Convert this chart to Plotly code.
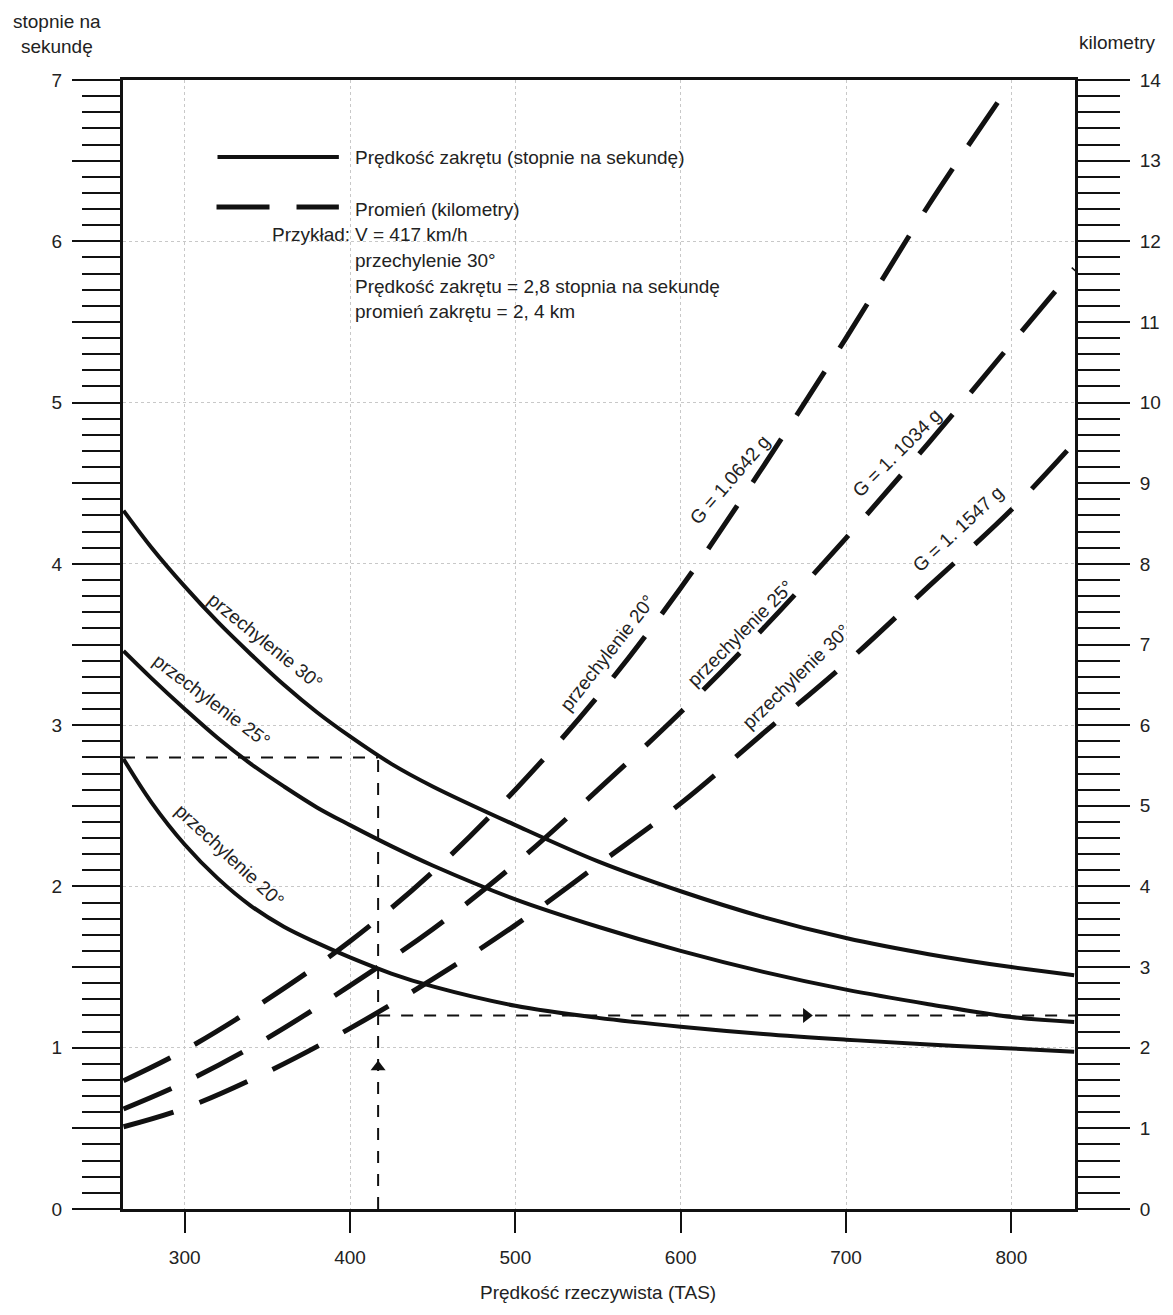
import plotly.graph_objects as go

# ---------------- data ----------------
rate_tas = [263, 280, 300, 320, 340, 360, 380, 400, 425, 450, 500, 550, 600, 650, 700, 750, 800, 838]
rate_30 = [4.33, 4.10, 3.86, 3.64, 3.44, 3.25, 3.08, 2.93, 2.76, 2.62, 2.38, 2.155, 1.97, 1.81, 1.68, 1.58, 1.50, 1.45]
rate_25 = [3.46, 3.29, 3.10, 2.92, 2.76, 2.62, 2.49, 2.38, 2.25, 2.13, 1.92, 1.75, 1.60, 1.47, 1.36, 1.27, 1.19, 1.16]
rate_20 = [2.79, 2.52, 2.26, 2.05, 1.88, 1.75, 1.65, 1.56, 1.46, 1.38, 1.26, 1.185, 1.13, 1.085, 1.05, 1.02, 0.995, 0.975]

r20_tas = [263, 300, 350, 400, 450, 500, 550, 600, 650, 700, 750, 797]
radius_20 = [1.59, 1.97, 2.60, 3.32, 4.18, 5.20, 6.36, 7.70, 9.21, 10.80, 12.45, 13.88]
r_tas = [263, 300, 350, 400, 450, 500, 550, 600, 650, 700, 750, 800, 838]
radius_25 = [1.24, 1.57, 2.12, 2.77, 3.47, 4.28, 5.20, 6.16, 7.20, 8.32, 9.50, 10.73, 11.66]
radius_30 = [1.02, 1.25, 1.70, 2.24, 2.85, 3.52, 4.27, 5.03, 5.90, 6.77, 7.72, 8.67, 9.50]

x_ticks = [300, 400, 500, 600, 700, 800]
rate_ticks = [i * 0.5 for i in range(15)]
rate_ticktext = [str(int(v)) if v == int(v) else "" for v in rate_ticks]
km_ticks = list(range(0, 15))

example_tas = 417
example_rate = 2.8
example_radius = 2.4
arrow_up_rate = 0.88
arrow_right_tas = 676

X_RANGE = [262.7, 838.5]
Y_RANGE = [0, 7]
Y2_RANGE = [0, 14]

# ---------------- style ----------------
FONT = "Liberation Sans, Arial, sans-serif"
INK = "#111111"
TXT = "#222222"
W, H = 1173, 1315
# plot area in page pixels
PX0, PX1, PY0, PY1 = 123, 1080, 80, 1209
ML, MR, MT, MB = PX0, W - PX1, PY0, H - PY1


def xp(px):
    return (px - PX0) / (PX1 - PX0)


def yp(py):
    return (PY1 - py) / (PY1 - PY0)


fig = go.Figure()

for vals in (rate_30, rate_25, rate_20):
    fig.add_trace(go.Scatter(x=rate_tas, y=vals, mode="lines", yaxis="y",
                             line=dict(color=INK, width=4, shape="spline"),
                             showlegend=False, hoverinfo="skip"))

for xs, vals in ((r20_tas, radius_20), (r_tas, radius_25), (r_tas, radius_30)):
    fig.add_trace(go.Scatter(x=xs, y=vals, mode="lines", yaxis="y2",
                             line=dict(color=INK, width=5, dash="52px,28px", shape="spline"),
                             showlegend=False, hoverinfo="skip"))

# example construction lines
thin = dict(color=INK, width=2, dash="12px,11px")
fig.add_trace(go.Scatter(x=[X_RANGE[0], example_tas], y=[example_rate, example_rate],
                         mode="lines", yaxis="y", line=thin, showlegend=False, hoverinfo="skip"))
fig.add_trace(go.Scatter(x=[example_tas, example_tas], y=[0, example_rate],
                         mode="lines", yaxis="y", line=thin, showlegend=False, hoverinfo="skip"))
fig.add_trace(go.Scatter(x=[example_tas, X_RANGE[1]], y=[example_radius, example_radius],
                         mode="lines", yaxis="y2", line=thin, showlegend=False, hoverinfo="skip"))
fig.add_trace(go.Scatter(x=[example_tas], y=[arrow_up_rate], mode="markers", yaxis="y",
                         marker=dict(symbol="triangle-up", size=13, color=INK),
                         showlegend=False, hoverinfo="skip"))
fig.add_trace(go.Scatter(x=[arrow_right_tas], y=[example_radius], mode="markers", yaxis="y2",
                         marker=dict(symbol="triangle-right", size=13, color=INK),
                         showlegend=False, hoverinfo="skip"))

tickfont = dict(family=FONT, size=19, color=TXT)

fig.update_layout(
    width=W, height=H,
    margin=dict(l=ML, r=MR, t=MT, b=MB, pad=0),
    paper_bgcolor="white", plot_bgcolor="white",
    font=dict(family=FONT, size=19, color=TXT),
    showlegend=False,
    xaxis=dict(range=X_RANGE, tickvals=x_ticks, ticks="outside", ticklen=21, tickwidth=2,
               tickcolor=INK, showline=True, linewidth=3, linecolor=INK, mirror=True,
               showgrid=True, gridcolor="#c8c8c8", griddash="dot", gridwidth=1,
               zeroline=False, tickfont=tickfont, ticklabelstandoff=8),
    yaxis=dict(range=Y_RANGE, tickvals=rate_ticks, ticktext=rate_ticktext, ticks="outside",
               ticklen=48, tickwidth=2, tickcolor=INK, showline=True, linewidth=3,
               linecolor=INK, showgrid=False, zeroline=False, tickfont=tickfont,
               ticklabelstandoff=6,
               minor=dict(dtick=0.1, tick0=0, ticks="outside", ticklen=38, tickwidth=2,
                          tickcolor=INK, showgrid=False)),
    yaxis3=dict(range=Y_RANGE, overlaying="y", dtick=1, showgrid=True, gridcolor="#c8c8c8",
                griddash="dot", gridwidth=1, showticklabels=False, ticks="", showline=False,
                zeroline=False),
    yaxis2=dict(range=Y2_RANGE, overlaying="y", side="right", tickvals=km_ticks,
                ticks="outside", ticklen=52, tickwidth=2, tickcolor=INK, showline=True,
                linewidth=3, linecolor=INK, showgrid=False, zeroline=False,
                tickfont=tickfont, ticklabelstandoff=6,
                minor=dict(dtick=0.2, tick0=0, ticks="outside", ticklen=42, tickwidth=2,
                           tickcolor=INK, showgrid=False)),
)

# invisible trace so that the grid axis (yaxis3) is drawn
fig.add_trace(go.Scatter(x=[X_RANGE[0]], y=[0], yaxis="y3", mode="markers",
                         marker=dict(opacity=0), showlegend=False, hoverinfo="skip"))

ann = []


def paper_text(text, px, py, xanchor="left", size=19):
    ann.append(dict(text=text, x=xp(px), y=yp(py), xref="paper", yref="paper",
                    xanchor=xanchor, yanchor="middle", showarrow=False,
                    font=dict(family=FONT, size=size, color=TXT)))


# axis titles
paper_text("stopnie na<br>sekundę", 57, 34, xanchor="center")
paper_text("kilometry", 1123, 42, xanchor="center")
paper_text("Prędkość rzeczywista (TAS)", 600, 1292, xanchor="center")

# legend / example block
paper_text("Prędkość zakrętu (stopnie na sekundę)", 354, 158)
paper_text("Promień (kilometry)", 354, 209)
paper_text("Przykład:", 353, 234, xanchor="right")
paper_text("V = 417 km/h", 354, 234)
paper_text("przechylenie 30°", 354, 261)
paper_text("Prędkość zakrętu = 2,8 stopnia na sekundę", 354, 286)
paper_text("promień zakrętu = 2, 4 km", 354, 311)

shapes = [
    dict(type="line", xref="paper", yref="paper", x0=xp(218), x1=xp(340), y0=yp(157), y1=yp(157),
         line=dict(color=INK, width=4)),
    dict(type="line", xref="paper", yref="paper", x0=xp(217), x1=xp(340), y0=yp(207), y1=yp(207),
         line=dict(color=INK, width=5, dash="53px,27px")),
]

# curve labels (data coordinates, left axis units)
curve_labels = [
    ("przechylenie 30°", 349, 3.52, 39),
    ("przechylenie 25°", 316, 3.15, 37),
    ("przechylenie 20°", 327, 2.19, 43),
    ("przechylenie 20°", 556, 3.45, -52),
    ("G = 1.0642 g", 630, 4.52, -49),
    ("przechylenie 25°", 636, 3.57, -45),
    ("G = 1. 1034 g", 731, 4.69, -45),
    ("przechylenie 30°", 670, 3.30, -44),
    ("G = 1. 1547 g", 768, 4.22, -43),
]
for text, x, y, ang in curve_labels:
    ann.append(dict(text=text, x=x, y=y, xref="x", yref="y", textangle=ang,
                    xanchor="center", yanchor="middle", showarrow=False,
                    font=dict(family=FONT, size=19, color=TXT)))

fig.update_layout(annotations=ann, shapes=shapes)

# remove the default page margin so the figure sits at the window origin
page_css = ("document.body.style.margin='0';"
            "document.body.style.overflow='hidden';"
            "document.documentElement.style.overflow='hidden';")
fig.write_html("out.html", post_script=page_css, config={"displayModeBar": False})
